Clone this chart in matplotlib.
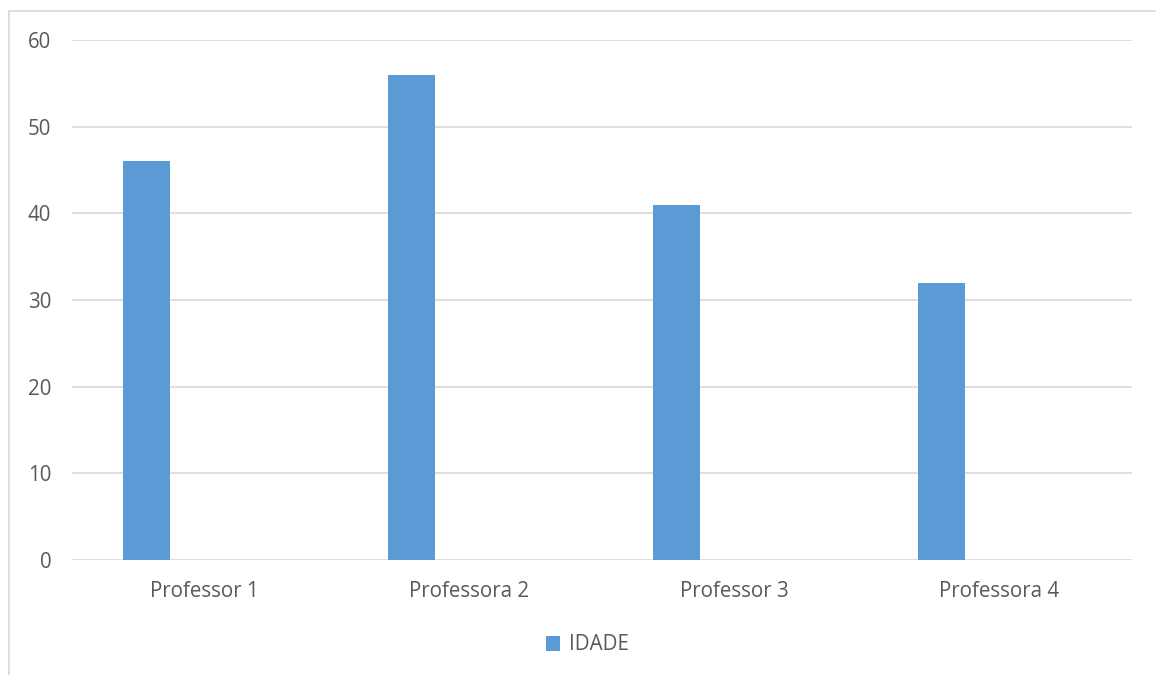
import matplotlib.pyplot as plt
import numpy as np
from matplotlib.lines import Line2D

plt.rcParams['font.family'] = ['Open Sans', 'DejaVu Sans']

# Idade de cada professor
professores = ['Professor 1', 'Professora 2', 'Professor 3', 'Professora 4']
idade = [46, 56, 41, 32]

COR_BARRA = '#5B9BD5'
COR_TEXTO = '#595959'
COR_GRADE = '#D9D9D9'

fig = plt.figure(figsize=(11.56, 6.75), dpi=100)
ax = fig.add_axes([0.0623, 0.1704, 0.9169, 0.7703])

x = np.arange(len(professores))
ax.bar(x - 0.3075, idade, width=0.177, align='edge', color=COR_BARRA, label='IDADE', zorder=3)

ax.set_xlim(-0.5, len(professores) - 0.5)
ax.set_ylim(0, 60)
ax.set_yticks(range(0, 61, 10))
ax.set_xticks(x)
ax.set_xticklabels(professores)

ax.grid(axis='y', color=COR_GRADE, linewidth=1.2, zorder=0)
for s in ax.spines.values():
    s.set_visible(False)
ax.tick_params(axis='both', length=0, labelsize=14.8, colors=COR_TEXTO)
ax.tick_params(axis='y', pad=15)
ax.tick_params(axis='x', pad=15)

# moldura do gráfico (lado superior e esquerdo)
fig.add_artist(Line2D([0.0075, 1.0], [1 - 11 / 675, 1 - 11 / 675], color=COR_GRADE, linewidth=1.2))
fig.add_artist(Line2D([0.0075, 0.0075], [0, 1 - 11 / 675], color=COR_GRADE, linewidth=1.2))

fig.legend(loc='center', bbox_to_anchor=(0.508, 1 - 645 / 675), frameon=False,
           fontsize=14.8, labelcolor=COR_TEXTO, handlelength=0.7, handleheight=0.7,
           handletextpad=0.4)

fig.savefig('out.png', dpi=100)
